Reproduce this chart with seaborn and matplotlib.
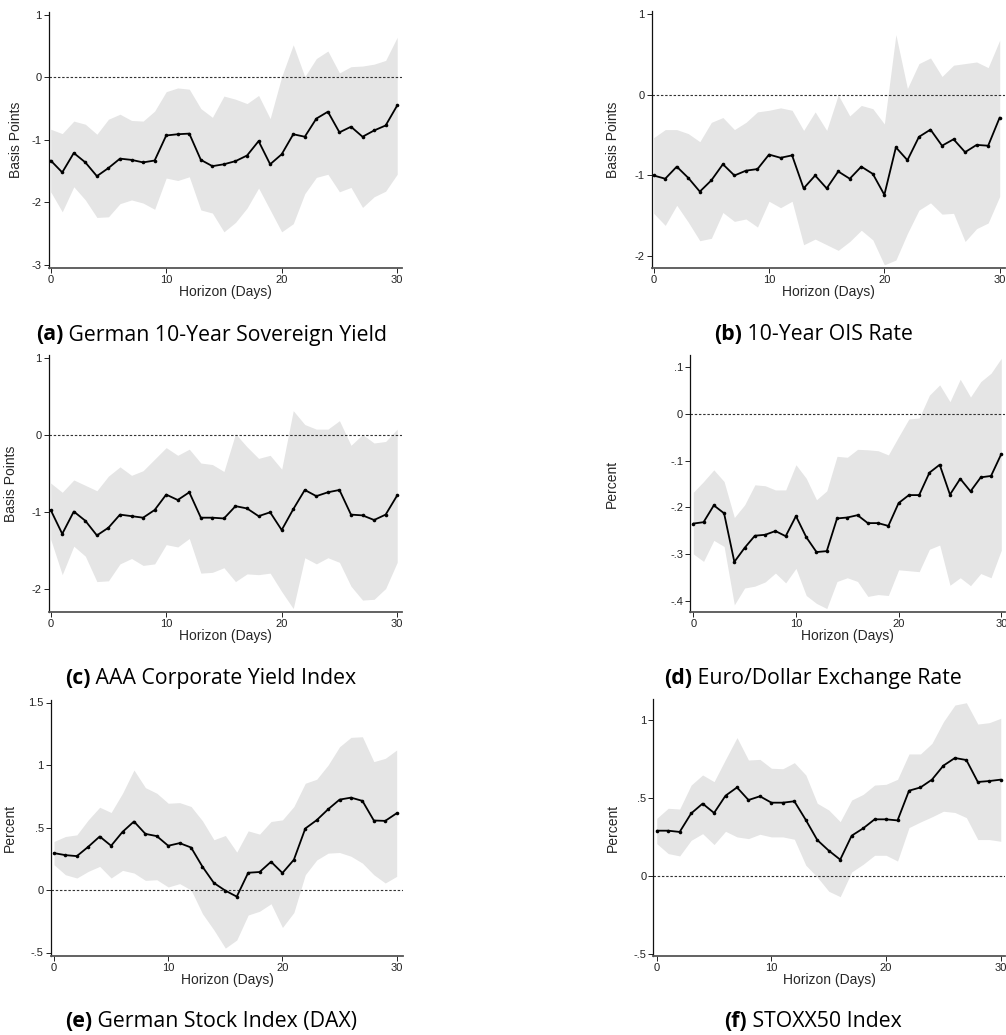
import numpy as np
import pandas as pd
import matplotlib
matplotlib.use("Agg")
import matplotlib.pyplot as plt
import seaborn as sns

horizon = list(range(31))

a_irf = [-1.33,-1.52,-1.21,-1.36,-1.58,-1.45,-1.30,-1.32,-1.36,-1.33,-0.93,-0.91,-0.90,-1.32,-1.42,-1.39,-1.34,-1.25,-1.02,-1.39,-1.23,-0.91,-0.95,-0.66,-0.55,-0.88,-0.79,-0.95,-0.85,-0.77,-0.45]
a_hi = [-0.83,-0.90,-0.70,-0.75,-0.91,-0.67,-0.59,-0.69,-0.70,-0.54,-0.23,-0.17,-0.19,-0.50,-0.64,-0.30,-0.35,-0.42,-0.29,-0.66,0.01,0.52,0.01,0.30,0.42,0.07,0.17,0.18,0.21,0.27,0.64]
a_lo = [-1.83,-2.15,-1.75,-1.96,-2.24,-2.23,-2.02,-1.96,-2.01,-2.11,-1.61,-1.65,-1.59,-2.12,-2.17,-2.47,-2.32,-2.09,-1.77,-2.12,-2.47,-2.34,-1.86,-1.60,-1.55,-1.83,-1.76,-2.08,-1.91,-1.82,-1.55]

b_irf = [-1.00,-1.04,-0.89,-1.03,-1.20,-1.06,-0.86,-1.00,-0.94,-0.92,-0.74,-0.78,-0.75,-1.16,-1.00,-1.16,-0.95,-1.04,-0.89,-0.98,-1.24,-0.65,-0.81,-0.52,-0.43,-0.63,-0.55,-0.71,-0.62,-0.63,-0.28]
b_hi = [-0.53,-0.43,-0.43,-0.48,-0.58,-0.34,-0.28,-0.43,-0.34,-0.21,-0.19,-0.16,-0.19,-0.44,-0.21,-0.44,0.00,-0.26,-0.13,-0.17,-0.36,0.75,0.08,0.39,0.46,0.23,0.37,0.39,0.41,0.34,0.68]
b_lo = [-1.47,-1.62,-1.37,-1.58,-1.81,-1.78,-1.46,-1.57,-1.54,-1.64,-1.32,-1.40,-1.32,-1.86,-1.79,-1.86,-1.93,-1.82,-1.68,-1.80,-2.11,-2.05,-1.72,-1.43,-1.34,-1.48,-1.47,-1.82,-1.66,-1.59,-1.26]

c_irf = [-0.97,-1.28,-0.99,-1.11,-1.30,-1.20,-1.03,-1.05,-1.07,-0.97,-0.77,-0.84,-0.74,-1.07,-1.07,-1.08,-0.92,-0.95,-1.05,-1.00,-1.23,-0.96,-0.71,-0.79,-0.74,-0.71,-1.03,-1.04,-1.10,-1.03,-0.78]
c_hi = [-0.62,-0.74,-0.58,-0.65,-0.72,-0.53,-0.41,-0.52,-0.46,-0.31,-0.16,-0.26,-0.18,-0.36,-0.38,-0.47,0.02,-0.15,-0.30,-0.26,-0.44,0.32,0.14,0.08,0.08,0.19,-0.13,0.01,-0.10,-0.08,0.08]
c_lo = [-1.35,-1.81,-1.44,-1.57,-1.90,-1.89,-1.67,-1.60,-1.69,-1.67,-1.42,-1.45,-1.34,-1.79,-1.78,-1.72,-1.90,-1.80,-1.81,-1.79,-2.03,-2.25,-1.59,-1.67,-1.59,-1.65,-1.96,-2.14,-2.13,-1.99,-1.65]

d_irf = [-0.235,-0.232,-0.196,-0.213,-0.317,-0.287,-0.261,-0.259,-0.251,-0.262,-0.219,-0.264,-0.296,-0.294,-0.224,-0.222,-0.217,-0.234,-0.234,-0.240,-0.191,-0.174,-0.174,-0.126,-0.109,-0.173,-0.139,-0.166,-0.136,-0.133,-0.086]
d_hi = [-0.168,-0.145,-0.120,-0.145,-0.222,-0.195,-0.152,-0.154,-0.163,-0.163,-0.109,-0.138,-0.184,-0.165,-0.091,-0.093,-0.076,-0.077,-0.079,-0.088,-0.049,-0.011,-0.009,0.040,0.062,0.026,0.074,0.036,0.069,0.087,0.119]
d_lo = [-0.300,-0.316,-0.271,-0.284,-0.409,-0.373,-0.369,-0.360,-0.341,-0.362,-0.331,-0.389,-0.406,-0.417,-0.359,-0.351,-0.359,-0.391,-0.387,-0.389,-0.334,-0.336,-0.338,-0.290,-0.281,-0.367,-0.351,-0.368,-0.342,-0.351,-0.292]

e_irf = [0.295,0.279,0.271,0.346,0.428,0.354,0.465,0.548,0.449,0.431,0.354,0.375,0.340,0.186,0.056,-0.005,-0.053,0.138,0.144,0.226,0.136,0.242,0.492,0.559,0.646,0.723,0.739,0.713,0.556,0.553,0.614]
e_hi = [0.388,0.428,0.441,0.561,0.662,0.620,0.774,0.960,0.819,0.774,0.694,0.699,0.668,0.553,0.402,0.436,0.303,0.473,0.447,0.548,0.561,0.668,0.854,0.886,1.000,1.146,1.221,1.226,1.027,1.053,1.120]
e_lo = [0.202,0.122,0.096,0.149,0.189,0.096,0.157,0.136,0.077,0.082,0.024,0.051,0.000,-0.19,-0.32,-0.465,-0.40,-0.20,-0.17,-0.11,-0.30,-0.18,0.122,0.24,0.295,0.30,0.27,0.215,0.122,0.056,0.109]

f_irf = [0.289,0.289,0.281,0.400,0.463,0.403,0.514,0.567,0.486,0.510,0.469,0.469,0.478,0.358,0.229,0.161,0.103,0.257,0.304,0.362,0.362,0.355,0.546,0.567,0.617,0.707,0.756,0.743,0.602,0.608,0.617]
f_hi = [0.368,0.433,0.428,0.582,0.647,0.604,0.747,0.887,0.743,0.747,0.690,0.687,0.726,0.647,0.465,0.422,0.347,0.486,0.522,0.582,0.587,0.619,0.782,0.782,0.850,0.989,1.096,1.111,0.974,0.983,1.011]
f_lo = [0.206,0.142,0.127,0.227,0.270,0.200,0.285,0.249,0.238,0.266,0.249,0.249,0.234,0.067,-0.009,-0.100,-0.135,0.024,0.073,0.131,0.131,0.094,0.309,0.345,0.378,0.414,0.406,0.373,0.232,0.232,0.221]

panel_tags = ["(a)", "(b)", "(c)", "(d)", "(e)", "(f)"]
panel_titles = ["German 10-Year Sovereign Yield", "10-Year OIS Rate",
                "AAA Corporate Yield Index", "Euro/Dollar Exchange Rate",
                "German Stock Index (DAX)", "STOXX50 Index"]
y_labels = ["Basis Points", "Basis Points", "Basis Points", "Percent", "Percent", "Percent"]
y_ticks = [[1, 0, -1, -2, -3], [1, 0, -1, -2], [1, 0, -1, -2],
           [0.1, 0, -0.1, -0.2, -0.3, -0.4], [1.5, 1, 0.5, 0, -0.5], [1, 0.5, 0, -0.5]]
y_ticklabels = [["1", "0", "-1", "-2", "-3"], ["1", "0", "-1", "-2"], ["1", "0", "-1", "-2"],
                [".1", "0", "-.1", "-.2", "-.3", "-.4"], ["1.5", "1", ".5", "0", "-.5"], ["1", ".5", "0", "-.5"]]
x_ticks = [0, 10, 20, 30]

series = [(a_irf, a_lo, a_hi), (b_irf, b_lo, b_hi), (c_irf, c_lo, c_hi),
          (d_irf, d_lo, d_hi), (e_irf, e_lo, e_hi), (f_irf, f_lo, f_hi)]

sns.set_style("ticks")
plt.rcParams['font.family'] = ['Liberation Sans', 'DejaVu Sans']

W, H = 1006, 1035
fig = plt.figure(figsize=(W / 100, H / 100), dpi=100)

# pixel boxes: left, right, top, bottom
boxes = [(48.7, 401.7, 12, 268.3), (651.7, 1005, 11.5, 268),
         (48.7, 401.7, 355, 611.7), (690, 1005, 355, 612.3),
         (50.7, 403.3, 700, 956), (653.3, 1005, 699, 956)]
xlims = [(-0.173, 30.39), (-0.173, 30.46), (-0.173, 30.39), (-0.32, 30.36), (-0.29, 30.58), (-0.30, 30.37)]
ylims = [(-3.053, 1.044), (-2.149, 1.037), (-2.291, 1.043), (-0.425, 0.126), (-0.528, 1.52), (-0.516, 1.135)]
ylab_x = [23, 620, 18, 619, 17, 620]
cap_pos = [(211.7, 335), (813.3, 335), (210.8, 678.3), (813.3, 678.3), (210.8, 1021.7), (813.3, 1021.7)]

band_color = "#e5e5e5"

for i in range(6):
    l, r, t, b = boxes[i]
    ax = fig.add_axes([l / W, 1 - b / H, (r - l) / W, (b - t) / H])
    irf, lo, hi = series[i]
    df = pd.DataFrame({"Horizon": horizon, "irf": irf, "lo": lo, "hi": hi})
    ax.fill_between(df["Horizon"], df["lo"], df["hi"], color=band_color, lw=0, zorder=1)
    ax.axhline(0, color="#333333", lw=0.8, ls=(0, (2.2, 1.6)), zorder=2)
    sns.lineplot(data=df, x="Horizon", y="irf", ax=ax, color="black", lw=1.3,
                 marker="o", markersize=2.6, markeredgewidth=0, zorder=3)
    ax.set_xlim(*xlims[i])
    ax.set_ylim(*ylims[i])
    ax.set_xticks(x_ticks)
    ax.set_xticklabels([str(v) for v in x_ticks])
    ax.set_yticks(y_ticks[i])
    ax.set_yticklabels(y_ticklabels[i])
    ax.tick_params(axis="both", labelsize=8, length=3.5, width=0.7, colors="#222222", pad=1.5)
    ax.set_xlabel("Horizon (Days)", fontsize=10, labelpad=0)
    ax.set_ylabel(y_labels[i], fontsize=10)
    ax.yaxis.set_label_coords(ylab_x[i] / W, 1 - ((t + b) / 2) / H, transform=fig.transFigure)
    for s in ["top", "right"]:
        ax.spines[s].set_visible(False)
    ax.spines["left"].set_color("#111111")
    ax.spines["left"].set_linewidth(0.9)
    ax.spines["bottom"].set_color("#555555")
    ax.spines["bottom"].set_linewidth(1.3)
    ax.set_facecolor("white")

renderer = fig.canvas.get_renderer()
cap_font = ['Open Sans', 'DejaVu Sans']
for i in range(6):
    xc, yc = cap_pos[i]
    t1 = fig.text(0, 0, panel_tags[i], fontsize=15.3, fontweight="bold", family=cap_font,
                  va="center", ha="left", color="black")
    t2 = fig.text(0, 0, " " + panel_titles[i], fontsize=15.3, family=cap_font,
                  va="center", ha="left", color="black")
    w1 = t1.get_window_extent(renderer).width
    w2 = t2.get_window_extent(renderer).width
    x0 = xc - (w1 + w2) / 2
    t1.set_position((x0 / W, 1 - yc / H))
    t2.set_position(((x0 + w1) / W, 1 - yc / H))

fig.savefig("out.png", dpi=100)
